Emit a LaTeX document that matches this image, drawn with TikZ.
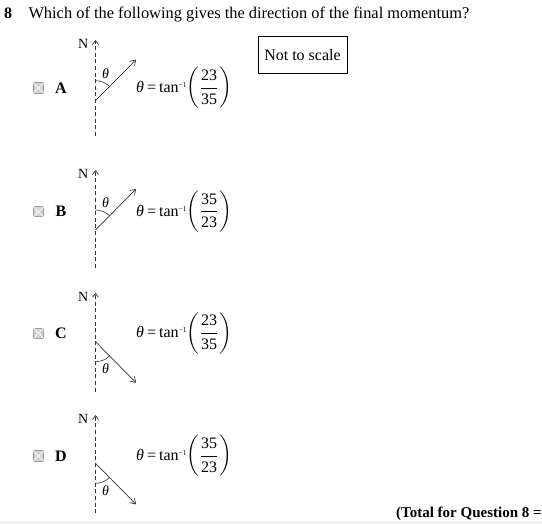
\documentclass[tikz,border=0pt]{standalone}
\usepackage{fontspec}
\usepackage{amsmath}
\setmainfont{Liberation Serif}
\usetikzlibrary{arrows.meta}
\begin{document}
\begin{tikzpicture}[x=1pt,y=-1pt,
  txt/.style={font=\fontsize{16.4}{19}\selectfont, inner sep=0pt},
  eqtxt/.style={font=\fontsize{16}{19}\selectfont, inner sep=0pt},
  bold/.style={font=\fontsize{16}{19}\selectfont\bfseries, inner sep=0pt},
  totaltxt/.style={font=\fontsize{15}{18}\selectfont\bfseries, inner sep=0pt},
  lbl/.style={font=\fontsize{14}{16}\selectfont, inner sep=0pt},
  northline/.style={line width=0.7pt, black!80, dash pattern=on 4pt off 2.6pt,
    -{Straight Barb[length=4pt,width=6pt,line width=0.7pt]}},
  vec/.style={line width=0.7pt, black!80, -{Straight Barb[length=5pt,width=7pt,line width=0.7pt]}},
  anglearc/.style={line width=0.6pt, black!80},
  tickbox/.style={draw=gray!75, fill=gray!35, line width=1pt, minimum size=10.5pt, inner sep=0pt},
  scalebox/.style={draw, line width=0.6pt, minimum width=89pt, minimum height=37pt, inner sep=0pt,
    font=\fontsize{16}{19}\selectfont}
]
\useasboundingbox (0,0) rectangle (542,524);
\clip (0,0) rectangle (542,524);
\fill[gray!12] (0,521) rectangle (542,524);

\node[bold, anchor=base west] (qnum) at (4,18.3) {8};
\node[txt, anchor=base west] (qtext) at (28.3,18.3) {Which of the following gives the direction of the final momentum?};
\node[scalebox] (nts) at (302.5,55) {Not to scale};

\foreach \L/\cy/\oy/\ty/\by/\dir/\nu/\de in
  {A/88/100.7/40/136/-1/23/35,
   B/211.7/230/170/268/-1/35/23,
   C/333.3/341.7/292.7/391.7/1/23/35,
   D/456/463.3/415/513.3/1/35/23}{
  \node[tickbox] (box\L) at (38.5,\cy) {};
  \draw[gray!8, line width=0.9pt] (box\L.north west) -- (box\L.south east)
                                  (box\L.north east) -- (box\L.south west);
  \node[bold] (let\L) at (61,\cy) {\L};
  \coordinate (o\L) at (95.5,\oy);
  \coordinate (t\L) at (95.5,\ty);
  \coordinate (b\L) at (95.5,\by);
  \coordinate (v\L) at (136,{\oy+\dir*41});
  \coordinate (a\L) at (95.5,{\oy+\dir*20});
  \draw[northline] (b\L) -- (t\L);
  \node[lbl, anchor=east] (N\L) at (88.5,{\ty+4}) {N};
  \draw[vec] (o\L) -- (v\L);
  \draw[anglearc] (a\L) arc[start angle={\dir*90}, end angle={\dir*45}, radius=20];
  \node[lbl] (th\L) at (105.5,{\oy+\dir*27}) {\itshape θ};
  \node[eqtxt, anchor=west] (eq\L) at (136,\cy)
    {\nulldelimiterspace=0pt\textit{θ}\hspace{3pt}=\hspace{3pt}tan\raisebox{5pt}{\fontsize{7.5}{9}\selectfont −1}$\left(\mkern2mu\dfrac{\text{\nu}}{\text{\de}}\mkern2mu\right)$};
}

\node[totaltxt, anchor=west] (total) at (396,514) {(Total for Question 8 =};
\end{tikzpicture}
\end{document}
